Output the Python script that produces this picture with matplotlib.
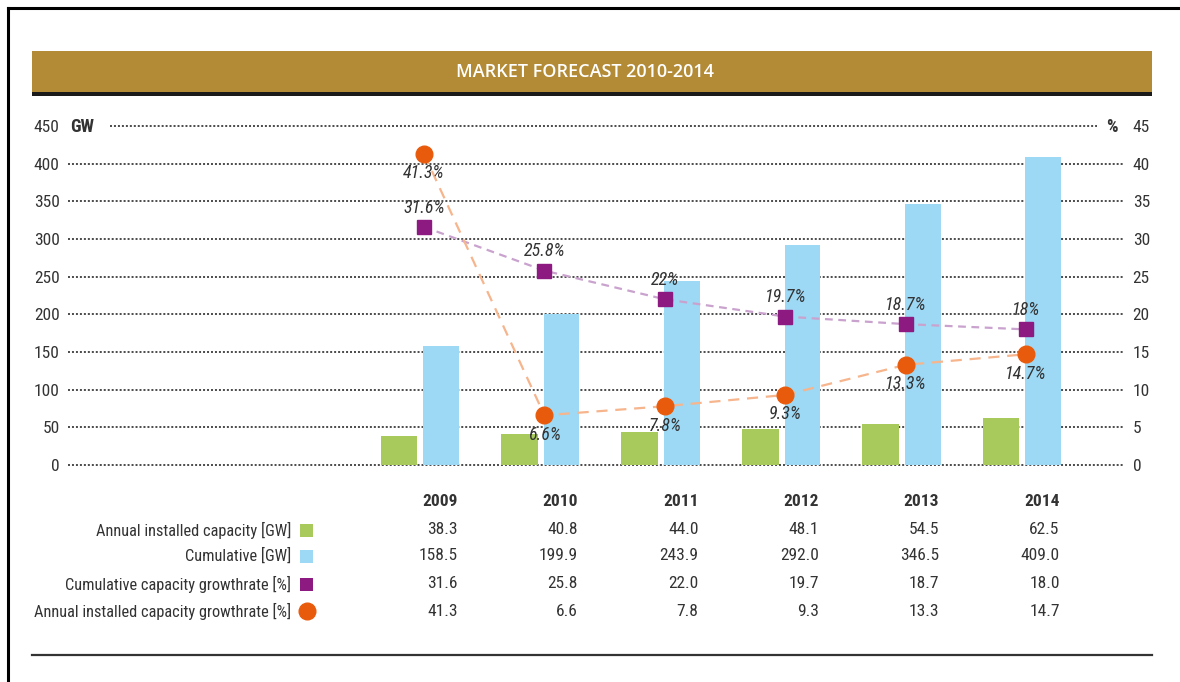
import matplotlib
matplotlib.use("Agg")
import matplotlib.pyplot as plt
import matplotlib.transforms as mtransforms
from matplotlib.patches import Rectangle
from matplotlib.lines import Line2D
import numpy as np
import logging
logging.getLogger("matplotlib.font_manager").setLevel(logging.ERROR)

plt.rcParams['font.family'] = ['Roboto Condensed', 'Liberation Sans Narrow', 'Lato', 'DejaVu Sans']

years = ["2009", "2010", "2011", "2012", "2013", "2014"]
annual_gw = [38.3, 40.8, 44.0, 48.1, 54.5, 62.5]
cumulative_gw = [158.5, 199.9, 243.9, 292.0, 346.5, 409.0]
cum_growth = [31.6, 25.8, 22.0, 19.7, 18.7, 18.0]
annual_growth = [41.3, 6.6, 7.8, 9.3, 13.3, 14.7]
cum_growth_labels = ["31.6%", "25.8%", "22%", "19.7%", "18.7%", "18%"]
annual_growth_labels = ["41.3%", "6.6%", "7.8%", "9.3%", "13.3%", "14.7%"]
table_annual = ["38.3", "40.8", "44.0", "48.1", "54.5", "62.5"]
table_cum = ["158.5", "199.9", "243.9", "292.0", "346.5", "409.0"]
table_cumg = ["31.6", "25.8", "22.0", "19.7", "18.7", "18.0"]
table_anng = ["41.3", "6.6", "7.8", "9.3", "13.3", "14.7"]
row_labels = ["Annual installed capacity [GW]", "Cumulative [GW]",
              "Cumulative capacity growthrate [%]", "Annual installed capacity growthrate [%]"]
gw_ticks = [0, 50, 100, 150, 200, 250, 300, 350, 400, 450]
pct_ticks = [0, 5, 10, 15, 20, 25, 30, 35, 40, 45]

W, H = 1180, 682
GREEN = "#A8C95B"
BLUE = "#9DD8F4"
PURPLE = "#8C1A80"
ORANGE = "#E95B0C"
TXT = "#333333"
FS = 12.5

fig = plt.figure(figsize=(W / 100, H / 100), dpi=100)

def fx(px):
    return px / W

def fy(py):
    return 1 - py / H

# border lines
fig.add_artist(Line2D([fx(8), fx(8)], [fy(8), 0], color="black", lw=2.2, transform=fig.transFigure))
fig.add_artist(Line2D([fx(8), 1], [fy(8), fy(8)], color="black", lw=2.2, transform=fig.transFigure))

# title band
fig.add_artist(Rectangle((fx(32), fy(92)), fx(1152) - fx(32), fy(51) - fy(92),
                         facecolor="#B38A36", edgecolor="none", transform=fig.transFigure))
fig.add_artist(Rectangle((fx(32), fy(96)), fx(1152) - fx(32), fy(92) - fy(96),
                         facecolor="#1A1A1A", edgecolor="none", transform=fig.transFigure))
fig.text(fx(585), fy(72), "MARKET FORECAST 2010-2014",
         color="white", fontsize=13, fontweight="semibold", ha="center", va="center",
         family=["Open Sans", "DejaVu Sans"])

# bottom rule
fig.add_artist(Line2D([fx(32), fx(1152)], [fy(655), fy(655)], color="#333333", lw=1.6,
                      transform=fig.transFigure))

# axes
ax_left, ax_right, ax_top, ax_bot = 68, 1123, 126, 465
ax = fig.add_axes([fx(ax_left), fy(ax_bot), fx(ax_right) - fx(ax_left), fy(ax_top) - fy(ax_bot)])
x = np.arange(len(years))
step = 120.4
ax.set_xlim((ax_left - 424) / step, (ax_right - 424) / step)
ax.set_ylim(0, 450)
for s in ax.spines.values():
    s.set_visible(False)
ax.set_xticks([])
ax.set_yticks(gw_ticks)
ax.tick_params(axis="y", length=0, pad=6, labelsize=12.5, labelcolor=TXT)

grid_kw = dict(color="#1A1A1A", lw=1.1, linestyle=(0, (1.3, 1.3)), zorder=0, clip_on=False)
for t in gw_ticks:
    if t == 450:
        ax.axhline(t, xmin=(110 - ax_left) / (ax_right - ax_left),
                   xmax=(1097 - ax_left) / (ax_right - ax_left), **grid_kw)
    else:
        ax.axhline(t, **grid_kw)

ax.bar(x - 0.36, annual_gw, width=0.305, align="edge", color=GREEN, zorder=2)
ax.bar(x - 0.005, cumulative_gw, width=0.295, align="edge", color=BLUE, zorder=2)

ax2 = ax.twinx()
ax2.set_ylim(0, 45)
for s in ax2.spines.values():
    s.set_visible(False)
ax2.set_yticks(pct_ticks)
ax2.tick_params(axis="y", length=0, pad=7, labelsize=12.5, labelcolor=TXT)

ax2.plot(x, cum_growth, color="#C9A2CE", lw=1.6, linestyle=(0, (3.5, 2.5)), zorder=3)
ax2.plot(x, cum_growth, linestyle="none", marker="s", markersize=10, color=PURPLE, zorder=4)
ax2.plot(x, annual_growth, color="#F6B58C", lw=1.6, linestyle=(0, (5, 3.5)), zorder=3)
ax2.plot(x, annual_growth, linestyle="none", marker="o", markersize=12, color=ORANGE, zorder=4)

lab_kw = dict(textcoords="offset points", ha="center", va="center", fontsize=13,
              style="italic", color=TXT, zorder=5)
for xi, v, lab in zip(x, cum_growth, cum_growth_labels):
    ax2.annotate(lab, (xi, v), xytext=(0, 14), **lab_kw)
for xi, v, lab in zip(x, annual_growth, annual_growth_labels):
    ax2.annotate(lab, (xi, v), xytext=(0, -14), **lab_kw)

# unit labels
fig.text(fx(70), fy(127), "GW", fontsize=13, fontweight="bold", color=TXT, ha="left", va="center")
fig.text(fx(1112), fy(127), "%", fontsize=13, fontweight="bold", color=TXT, ha="center", va="center")

# table
trans = mtransforms.blended_transform_factory(ax.transData, fig.transFigure)
for xi, yr in zip(x, years):
    ax.text(xi + 0.28, fy(502), yr, transform=trans, ha="right", va="center",
            fontsize=FS, fontweight="bold", color=TXT, clip_on=False)
row_y = [530, 556, 584, 611]
for ry, vals in zip(row_y, [table_annual, table_cum, table_cumg, table_anng]):
    for xi, v in zip(x, vals):
        ax.text(xi + 0.28, fy(ry), v, transform=trans, ha="right", va="center",
                fontsize=FS, color=TXT, clip_on=False)
for ry, lab in zip(row_y, row_labels):
    fig.text(fx(291), fy(ry), lab, ha="right", va="center", fontsize=11.8, color=TXT)

sq = 13
for ry, col in zip(row_y[:3], [GREEN, BLUE, PURPLE]):
    fig.add_artist(Rectangle((fx(300), fy(ry + sq / 2)), fx(sq), sq / H,
                             facecolor=col, edgecolor="none", transform=fig.transFigure))
fig.add_artist(Line2D([fx(307)], [fy(611)], marker="o", markersize=12, color=ORANGE,
                      linestyle="none", transform=fig.transFigure))

fig.savefig("out.png", dpi=100)
